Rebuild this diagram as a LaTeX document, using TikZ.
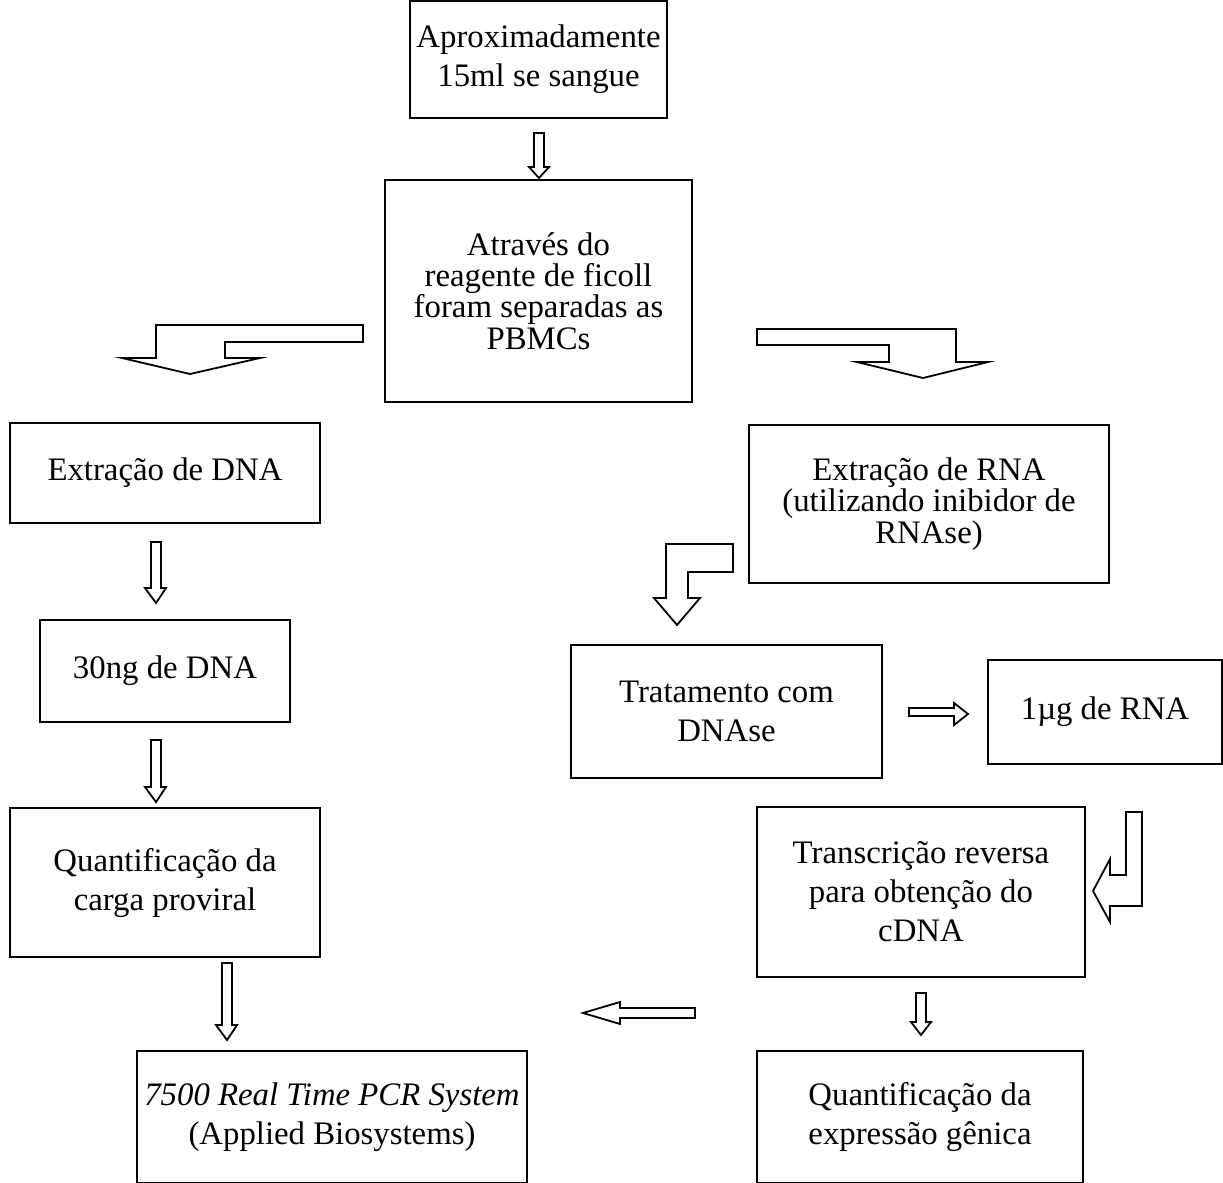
\documentclass[tikz,border=0pt]{standalone}
\usepackage{fontspec}
\setmainfont{Liberation Serif}
\begin{document}
\begin{tikzpicture}[x=0.5pt,y=-0.5pt,
	box/.style={draw,line width=0.9pt,align=center,inner sep=0pt,font=\fontsize{16.4}{19.5}\selectfont},
	tight/.style={font=\fontsize{16.4}{15.7}\selectfont},
	seta/.style={draw,line width=0.9pt,line join=miter}]
	\useasboundingbox (0,0) rectangle (1223,1183);
	% caixas
	\node[box,minimum width=128.5pt,minimum height=58.5pt] (sangue) at (538.5,59.5) {Aproximadamente\\15ml se sangue};
	\node[box,tight,minimum width=153.5pt,minimum height=111pt] (ficoll) at (538.5,291) {Através do\\reagente de ficoll\\foram separadas as\\PBMCs};
	\node[box,minimum width=155pt,minimum height=50pt] (extdna) at (165,473) {Extração de DNA};
	\node[box,tight,minimum width=180pt,minimum height=79pt] (extrna) at (929,504) {Extração de RNA\\(utilizando inibidor de\\RNAse)};
	\node[box,minimum width=125pt,minimum height=51pt] (ngdna) at (165,671) {30ng de DNA};
	\node[box,minimum width=155.5pt,minimum height=66.5pt] (dnase) at (726.5,711.5) {Tratamento com\\DNAse};
	\node[box,minimum width=117pt,minimum height=52pt] (ugrna) at (1105,712) {1µg de RNA};
	\node[box,minimum width=155pt,minimum height=74.5pt] (carga) at (165,882.5) {Quantificação da\\carga proviral};
	\node[box,minimum width=164pt,minimum height=85pt] (cdna) at (921,892) {Transcrição reversa\\para obtenção do\\cDNA};
	\node[box,minimum width=195pt,minimum height=66pt] (pcr) at (332,1117) {\textit{7500 Real Time PCR System}\\(Applied Biosystems)};
	\node[box,minimum width=163pt,minimum height=66pt] (expr) at (920,1117) {Quantificação da\\expressão gênica};
	% setas retas
	\draw[seta] (534,133)--(544,133)--(544,167)--(549,167)--(539,178)--(529,167)--(534,167)--cycle;
	\draw[seta] (151,542)--(161,542)--(161,588)--(166,588)--(156,603)--(145,588)--(151,588)--cycle;
	\draw[seta] (151,740)--(161,740)--(161,787)--(166,787)--(156,802)--(145,787)--(151,787)--cycle;
	\draw[seta] (222,963)--(232,963)--(232,1025)--(237,1025)--(227,1040)--(216,1025)--(222,1025)--cycle;
	\draw[seta] (916,993)--(926,993)--(926,1022)--(931,1022)--(921,1035)--(911,1022)--(916,1022)--cycle;
	\draw[seta] (909,708)--(954,708)--(954,703)--(968,714)--(954,725)--(954,716)--(909,716)--cycle;
	\draw[seta] (695,1008)--(620,1008)--(620,1002)--(583,1013)--(620,1024)--(620,1018)--(695,1018)--cycle;
	% setas dobradas
	\draw[seta] (363,325)--(156,325)--(156,358)--(122,358)--(190,374)--(260,358)--(225,358)--(225,342)--(363,342)--cycle;
	\draw[seta] (757,329)--(956,329)--(956,362)--(988,362)--(923,378)--(857,362)--(889,362)--(889,345)--(757,345)--cycle;
	\draw[seta] (733,544)--(666,544)--(666,598)--(654,598)--(677,625)--(700,598)--(688,598)--(688,572)--(733,572)--cycle;
	\draw[seta] (1126,812)--(1142,812)--(1142,906)--(1110,906)--(1110,922)--(1093,891)--(1110,859)--(1110,875)--(1126,875)--cycle;
\end{tikzpicture}
\end{document}
